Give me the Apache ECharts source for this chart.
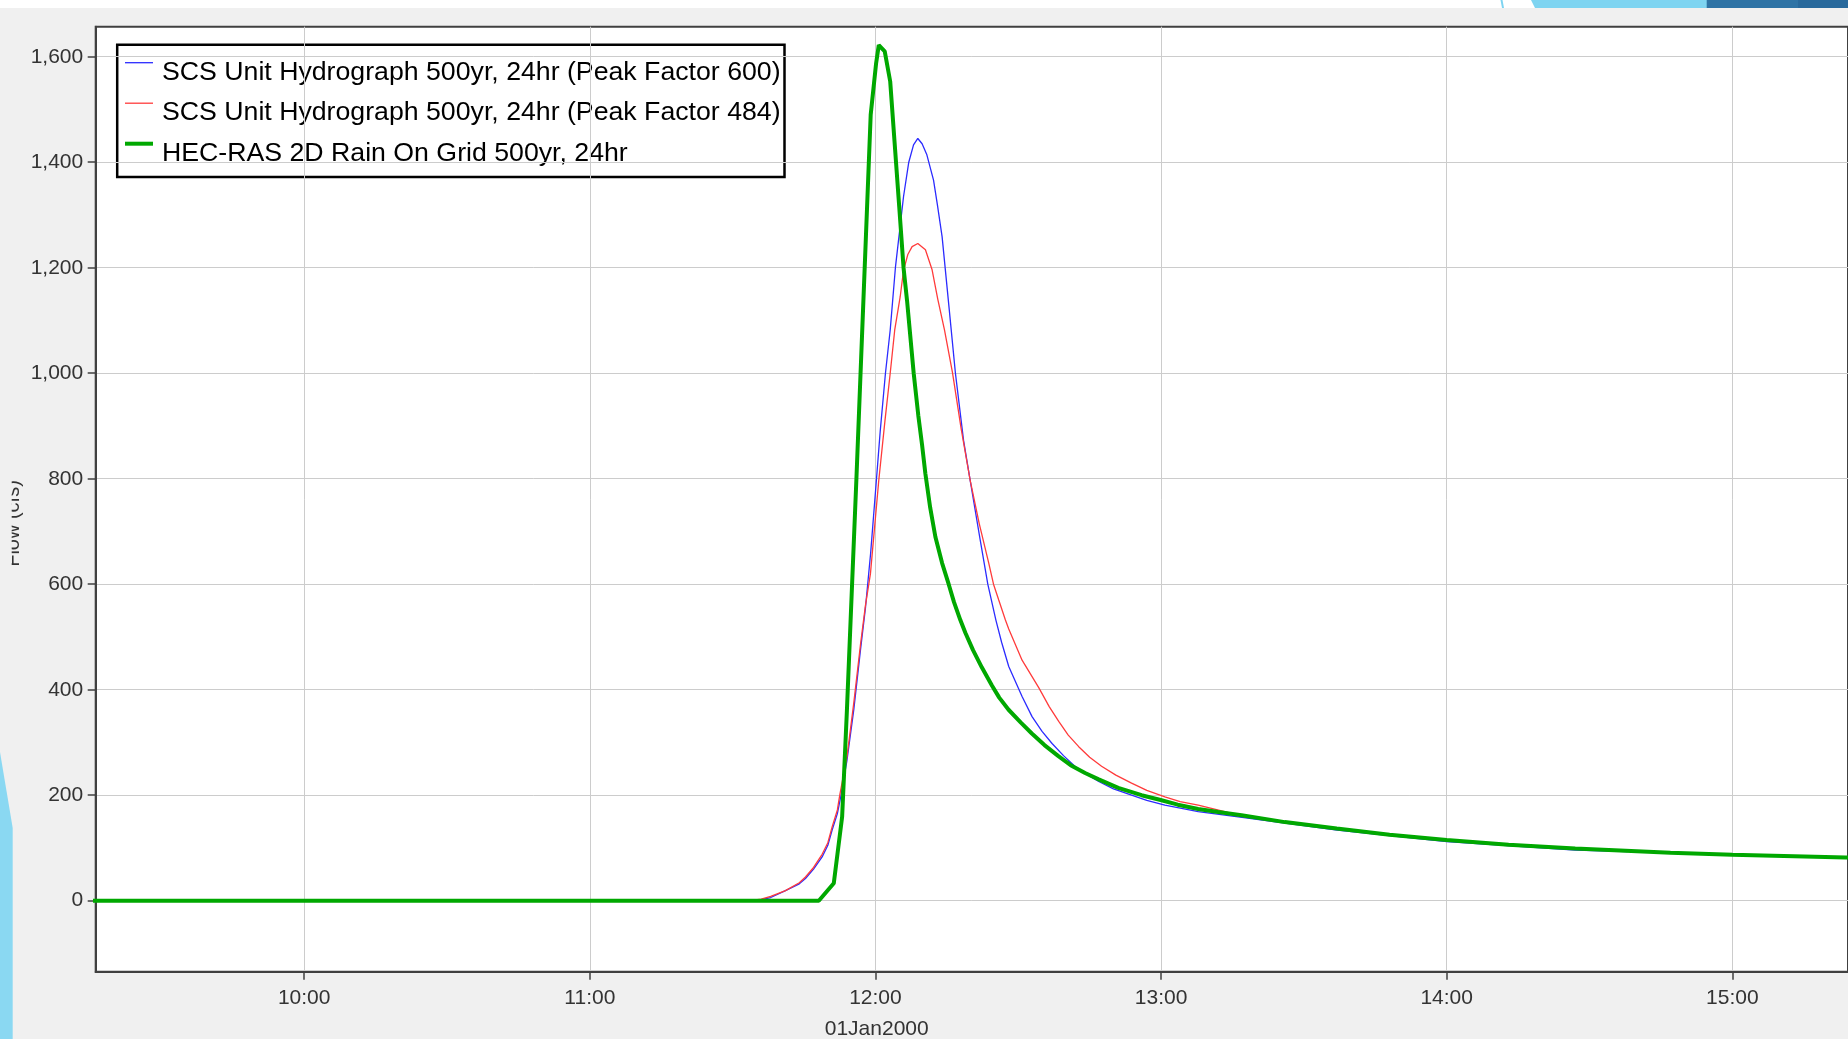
<!DOCTYPE html>
<html>
<head>
<meta charset="utf-8">
<script src="https://cdn.jsdelivr.net/npm/echarts@6/dist/echarts.min.js"></script>
<style>
  html, body { margin: 0; padding: 0; background: #f0f0f0; }
  #chart { width: 1848px; height: 1039px; }
</style>
</head>
<body>
<div id="chart"></div>
<script>
// tick labels
const xTicks = ['10:00', '11:00', '12:00', '13:00', '14:00', '15:00'];
const yTicks = [0, 200, 400, 600, 800, 1000, 1200, 1400, 1600];

const names = [
  'SCS Unit Hydrograph 500yr, 24hr (Peak Factor 600)',
  'SCS Unit Hydrograph 500yr, 24hr (Peak Factor 484)',
  'HEC-RAS 2D Rain On Grid 500yr, 24hr'
];
const colors = ['#2b2bff', '#ff3b3b', '#00a800'];
const widths = [1.3, 1.3, 4];

// Peak Factor 600 (blue)
const blueTime = ['11:35:00', '11:38:00', '11:41:06', '11:44:00', '11:45:18', '11:47:00', '11:48:48', '11:50:00',
  '11:50:54', '11:52:00', '11:52:42', '11:54:00', '11:55:27', '11:56:51', '11:57:54', '11:59:00', '12:00:08',
  '12:01:00', '12:02:06', '12:03:06', '12:04:12', '12:05:54', '12:07:00', '12:08:00', '12:08:54', '12:09:48',
  '12:10:48', '12:12:12', '12:13:00', '12:14:00', '12:15:24', '12:16:48', '12:18:30', '12:19:54', '12:22:00',
  '12:23:36', '12:25:18', '12:26:30', '12:28:00', '12:30:48', '12:32:54', '12:35:00', '12:37:06', '12:39:30',
  '12:42:00', '12:44:30', '12:46:54', '12:50:00', '12:53:48', '12:57:00', '13:00:48', '13:07:48', '13:17:00',
  '13:37:00', '14:00:00', '14:27:00', '14:38:00'];
const blueFlow = [0, 6, 19, 32, 42, 60, 83, 105,
  134, 165, 197, 265, 362, 475, 555, 660, 790,
  890, 1000, 1082, 1201, 1335, 1400, 1433, 1445, 1435,
  1414, 1366, 1320, 1259, 1130, 1000, 873, 797, 684,
  600, 532, 490, 444, 387, 349, 321, 298, 275,
  254, 239, 226, 212, 200, 190, 181, 169, 158,
  134, 112, 96, 93];

// Peak Factor 484 (red)
const redTime = ['11:33:30', '11:36:00', '11:38:00', '11:41:06', '11:44:00', '11:45:18', '11:47:00', '11:48:48',
  '11:50:00', '11:50:54', '11:52:00', '11:52:30', '11:54:00', '11:55:27', '11:56:51', '11:57:54', '11:58:57',
  '12:00:42', '12:02:00', '12:03:06', '12:04:03', '12:05:12', '12:05:54', '12:06:48', '12:07:42', '12:08:54',
  '12:10:30', '12:11:54', '12:13:06', '12:14:30', '12:16:12', '12:18:00', '12:19:54', '12:21:48', '12:23:48',
  '12:24:48', '12:25:54', '12:27:18', '12:28:00', '12:30:48', '12:34:18', '12:36:30', '12:38:30', '12:40:30',
  '12:42:42', '12:45:00', '12:47:30', '12:50:30', '12:53:48', '12:57:00', '13:00:48', '13:04:00', '13:07:48',
  '13:17:00', '13:37:00', '14:00:00', '14:31:00'];
const redFlow = [0, 3, 8, 19, 34, 45, 63, 88,
  110, 140, 172, 200, 272, 375, 485, 560, 620,
  797, 910, 1000, 1082, 1145, 1195, 1225, 1240, 1246,
  1234, 1196, 1140, 1082, 1000, 895, 797, 715, 640,
  600, 570, 532, 515, 456, 404, 368, 340, 314,
  292, 272, 255, 238, 223, 209, 197, 188, 181,
  161, 136, 114, 97];

// HEC-RAS 2D (green)
const greenTime = ['09:00:00', '11:48:06', '11:51:15', '11:53:00', '11:54:00', '11:55:00', '11:56:00', '11:57:00',
  '11:58:00', '11:59:00', '12:00:08', '12:00:42', '12:01:57', '12:03:06', '12:04:00', '12:05:00', '12:05:54',
  '12:06:38', '12:08:02', '12:09:00', '12:09:47', '12:10:29', '12:11:30', '12:12:35', '12:14:00', '12:15:23',
  '12:16:30', '12:17:50', '12:18:53', '12:20:30', '12:22:22', '12:24:28', '12:26:00', '12:27:58', '12:30:30',
  '12:32:51', '12:35:30', '12:38:26', '12:41:00', '12:44:02', '12:46:54', '12:51:00', '12:55:54', '12:59:54',
  '13:03:30', '13:07:48', '13:12:00', '13:16:54', '13:26:00', '13:36:54', '13:48:00', '14:00:00', '14:13:00',
  '14:27:00', '14:47:00', '15:00:00', '15:23:48', '15:30:00'];
const greenFlow = [0, 0, 33, 159, 360, 580, 800, 1030,
  1260, 1490, 1587, 1622, 1610, 1553, 1440, 1315, 1200,
  1138, 1000, 920, 865, 810, 745, 690, 640, 600,
  566, 532, 508, 475, 442, 408, 385, 362, 338,
  317, 295, 274, 257, 242, 230, 214, 200, 191,
  182, 174, 168, 162, 149, 137, 125, 115, 106,
  99, 91, 87, 82, 81];

const FONT = 'Liberation Sans, Arial, sans-serif';

// clock string -> minutes after midnight
function toMin(s) {
  const p = s.split(':').map(Number);
  return p[0] * 60 + p[1] + (p[2] || 0) / 60;
}
function pairs(times, flows) {
  return times.map((t, i) => [toMin(t), flows[i]]);
}
function fmtClock(v) {
  const h = Math.floor(v / 60);
  const m = Math.round(v - h * 60);
  return String(h).padStart(2, '0') + ':' + String(m).padStart(2, '0');
}

// legend box drawn by hand (line sits above the text like in HEC-DSSVue)
const legendItems = [
  { type: 'rect', shape: { x: 117.2, y: 44.7, width: 667.3, height: 132.3 },
    style: { fill: '#ffffff', stroke: '#000000', lineWidth: 2.5 } }
];
names.forEach((n, i) => {
  const y = 62.7 + i * 40.5;
  legendItems.push({ type: 'line', shape: { x1: 125, y1: y, x2: 153, y2: y },
    style: { stroke: colors[i], lineWidth: widths[i] } });
  legendItems.push({ type: 'text', x: 162, y: y + 9.8,
    style: { text: n, fontFamily: FONT, fontSize: 26.7, fill: '#000000', align: 'left', verticalAlign: 'middle' } });
});

const myChart = echarts.init(document.getElementById('chart'));

const option = {
  backgroundColor: '#f0f0f0',
  animation: false,
  grid: {
    left: 95.7,
    right: -3,
    top: 26.7,
    bottom: 67.3,
    show: true,
    backgroundColor: '#ffffff',
    borderColor: '#404040',
    borderWidth: 2
  },
  xAxis: {
    type: 'value',
    min: 556.2,
    max: 924.3,
    minInterval: 60,
    maxInterval: 60,
    axisLine: { show: true, onZero: false, lineStyle: { color: '#404040', width: 2 } },
    axisTick: {
      show: true,
      length: 8,
      lineStyle: { color: '#404040', width: 1.5 },
      customValues: xTicks.map(toMin)
    },
    axisLabel: {
      fontFamily: FONT,
      fontSize: 21,
      color: '#333333',
      margin: 16,
      customValues: xTicks.map(toMin),
      formatter: v => (v % 60 === 0 ? fmtClock(v) : '')
    },
    splitLine: { show: true, lineStyle: { color: '#cccccc', width: 1 } }
  },
  yAxis: {
    type: 'value',
    min: -134.6,
    max: 1656.9,
    minInterval: 200,
    maxInterval: 200,
    axisLine: { show: true, onZero: false, lineStyle: { color: '#404040', width: 2 } },
    axisTick: {
      show: true,
      length: 8,
      lineStyle: { color: '#404040', width: 1.5 },
      customValues: yTicks
    },
    axisLabel: {
      fontFamily: FONT,
      fontSize: 21,
      color: '#333333',
      margin: 12.5,
      customValues: yTicks,
      formatter: v => (v % 200 === 0 ? v.toLocaleString('en-US') : '')
    },
    splitLine: { show: true, lineStyle: { color: '#cccccc', width: 1 } }
  },
  graphic: [
    // white strip and blue slide decoration at the top
    { type: 'rect', shape: { x: 0, y: 0, width: 1848, height: 8 }, style: { fill: '#ffffff' } },
    { type: 'polygon', shape: { points: [[1500.5, 0], [1502.5, 0], [1504, 8], [1502, 8]] }, style: { fill: '#7ed4f1' } },
    { type: 'polygon', shape: { points: [[1531, 0], [1848, 0], [1848, 8], [1535, 8]] }, style: { fill: '#7ed4f1' } },
    { type: 'rect', shape: { x: 1706.7, y: 0, width: 92, height: 8 }, style: { fill: '#2e73a5' } },
    { type: 'rect', shape: { x: 1798, y: 0, width: 50, height: 8 }, style: { fill: '#28699c' } },
    // blue wedge on the left edge
    { type: 'polygon', shape: { points: [[0, 752], [12.7, 828], [12.7, 1039], [0, 1039]] }, style: { fill: '#8ad8f2' } },
    // y axis title, cut off at the left
    {
      type: 'text', x: 13.7, y: 523.5, rotation: Math.PI / 2,
      style: { text: 'Flow (cfs)', fontFamily: FONT, fontSize: 20, fill: '#333333', align: 'center', verticalAlign: 'middle' }
    },
    { type: 'rect', z: 10, shape: { x: 0, y: 440, width: 11.7, height: 170 }, style: { fill: '#f0f0f0' } },
    // date under the 12:00 tick
    {
      type: 'text', x: 876.7, y: 1029.5,
      style: { text: '01Jan2000', fontFamily: FONT, fontSize: 21, fill: '#333333', align: 'center', verticalAlign: 'middle' }
    },
    { type: 'group', z: 20, children: legendItems }
  ],
  series: [
    {
      name: names[0],
      type: 'line',
      symbol: 'none',
      data: pairs(blueTime, blueFlow),
      lineStyle: { color: colors[0], width: widths[0] }
    },
    {
      name: names[1],
      type: 'line',
      symbol: 'none',
      data: pairs(redTime, redFlow),
      lineStyle: { color: colors[1], width: widths[1] }
    },
    {
      name: names[2],
      type: 'line',
      symbol: 'none',
      data: pairs(greenTime, greenFlow),
      lineStyle: { color: colors[2], width: widths[2] }
    }
  ]
};

myChart.setOption(option, true);
</script>
</body>
</html>
